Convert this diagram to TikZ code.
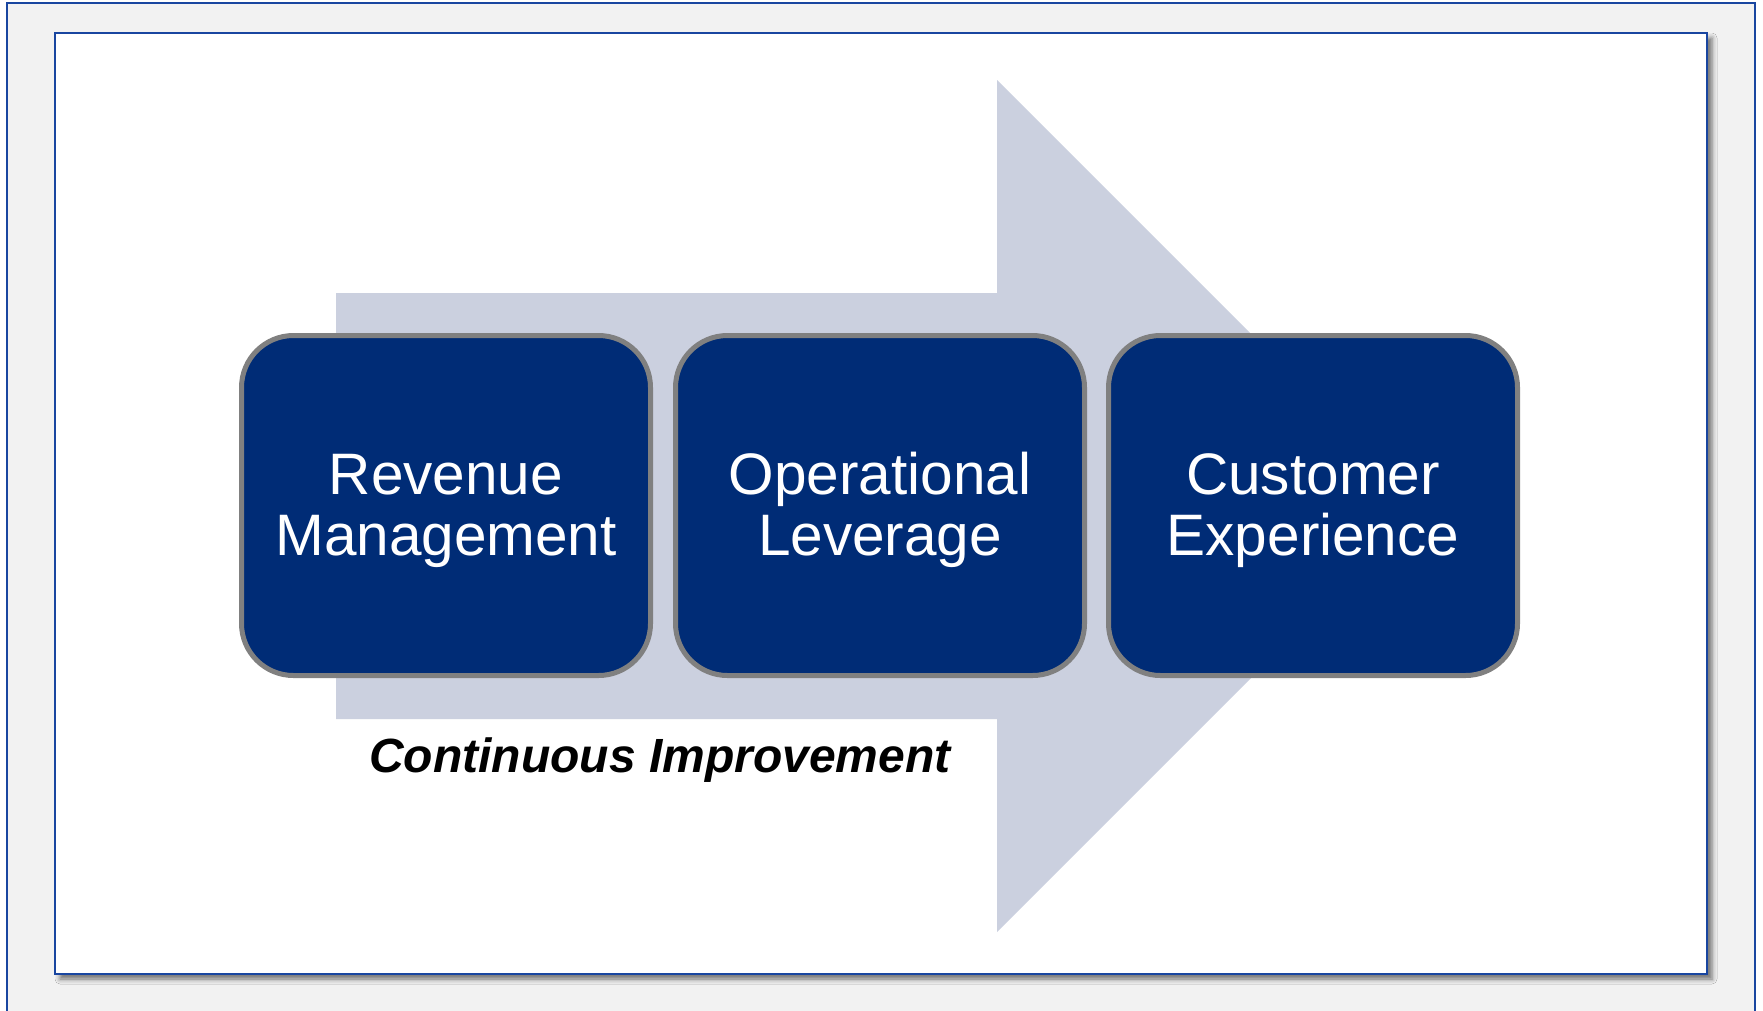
\documentclass[tikz,border=0pt]{standalone}
\usepackage{fontspec}
\setmainfont{Liberation Sans}
\usetikzlibrary{shadows.blur}

\definecolor{framebl}{RGB}{25,70,160}
\definecolor{pagegray}{RGB}{242,242,242}
\definecolor{arrowgray}{RGB}{203,208,223}
\definecolor{boxnavy}{RGB}{0,44,118}
\definecolor{boxline}{RGB}{128,128,128}

% lifts the first line so the two lines sit a little lower in the box
\newcommand{\boxlift}{\rule{0pt}{51pt}}

\tikzset{
  stagebox/.style={draw=boxline, line width=5pt, fill=boxnavy, rounded corners=52pt,
    minimum width=409pt, minimum height=340pt, inner sep=0pt, align=center,
    text=white, font=\fontsize{58.5}{61}\selectfont},
}

\begin{document}
\begin{tikzpicture}[x=1pt,y=1pt,yscale=-1,xscale=1]
\useasboundingbox (0,0) rectangle (1763,1010);

%Shape: outer page
\draw [draw=framebl, line width=2.2pt, fill=pagegray] (7,3) rectangle (1755,1030);
%Shape: inner slide with shadow
\draw [draw=framebl, line width=2.8pt, fill=white,
  blur shadow={shadow xshift=5pt, shadow yshift=-5pt, shadow blur radius=5pt, shadow opacity=55}]
  (55,33) rectangle (1707,974);

%Shape: big arrow
\fill [arrowgray] (336,293) -- (997,293) -- (997,80) -- (1423,506) -- (997,932) -- (997,719) -- (336,719) -- cycle;

% Stage boxes
\node [stagebox] (revenue) at (446,505.5) {\boxlift Revenue\\Management};
\node [stagebox] (operational) at (880,505.5) {\boxlift Operational\\Leverage};
\node [stagebox] (customer) at (1313,505.5) {\boxlift Customer\\Experience};

% Text Node
\node [anchor=base, inner sep=0pt, font=\fontsize{48}{50}\selectfont\bfseries\itshape] (improve) at (660,772.5) {Continuous Improvement};

\end{tikzpicture}
\end{document}
